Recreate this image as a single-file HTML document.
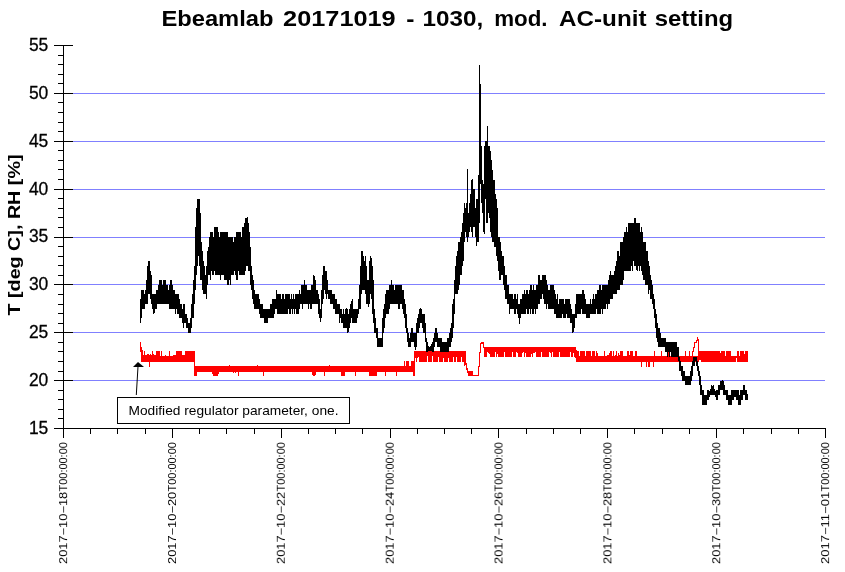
<!DOCTYPE html>
<html><head><meta charset="utf-8"><title>Ebeamlab</title>
<style>html,body{margin:0;padding:0;background:#fff;}body{width:845px;height:572px;position:relative;overflow:hidden;font-family:"Liberation Sans",sans-serif;}</style></head>
<body>
<svg width="845" height="572" viewBox="0 0 845 572" style="position:absolute;left:0;top:0" font-family="Liberation Sans, sans-serif">
<path d="M73,380.5H825M73,332.5H825M73,284.5H825M73,237.5H825M73,189.5H825M73,141.5H825M73,93.5H825" stroke="#8080ff" stroke-width="1" fill="none" shape-rendering="crispEdges"/>
<path d="M63.5,45.0V438 M63.0,428.5H825.5M54,428.5H73M58,418.5H63.5M58,409.5H63.5M58,399.5H63.5M58,390.5H63.5M54,380.5H73M58,371.5H63.5M58,361.5H63.5M58,351.5H63.5M58,342.5H63.5M54,332.5H73M58,323.5H63.5M58,313.5H63.5M58,304.5H63.5M58,294.5H63.5M54,284.5H73M58,275.5H63.5M58,265.5H63.5M58,256.5H63.5M58,246.5H63.5M54,237.5H73M58,227.5H63.5M58,217.5H63.5M58,208.5H63.5M58,198.5H63.5M54,189.5H73M58,179.5H63.5M58,169.5H63.5M58,160.5H63.5M58,150.5H63.5M54,141.5H73M58,131.5H63.5M58,122.5H63.5M58,112.5H63.5M58,102.5H63.5M54,93.5H73M58,83.5H63.5M58,74.5H63.5M58,64.5H63.5M58,55.5H63.5M54,45.5H73M63.5,428.5V438M90.5,428.5V434M117.5,428.5V434M145.5,428.5V434M172.5,428.5V438M199.5,428.5V434M226.5,428.5V434M254.5,428.5V434M281.5,428.5V438M308.5,428.5V434M335.5,428.5V434M362.5,428.5V434M390.5,428.5V438M417.5,428.5V434M444.5,428.5V434M471.5,428.5V434M498.5,428.5V438M526.5,428.5V434M553.5,428.5V434M580.5,428.5V434M607.5,428.5V438M634.5,428.5V434M662.5,428.5V434M689.5,428.5V434M716.5,428.5V438M743.5,428.5V434M771.5,428.5V434M798.5,428.5V434M825.5,428.5V438" stroke="#000" stroke-width="1" fill="none" shape-rendering="crispEdges"/>
<path d="M140,342h1V352h-1zM141,347h1V362h-1zM142,350h1V362h-1zM143,355h1V362h-1zM144,351h1V362h-1zM145,355h1V362h-1zM146,355h1V362h-1zM147,354h1V362h-1zM148,354h1V362h-1zM149,355h1V367h-1zM150,354h1V362h-1zM151,355h1V362h-1zM152,351h1V362h-1zM153,354h1V362h-1zM154,355h1V362h-1zM155,355h1V362h-1zM156,351h1V362h-1zM157,351h1V362h-1zM158,351h1V362h-1zM159,351h1V362h-1zM160,356h1V362h-1zM161,351h1V362h-1zM162,356h1V362h-1zM163,356h1V362h-1zM164,356h1V362h-1zM165,355h1V362h-1zM166,356h1V362h-1zM167,356h1V362h-1zM168,356h1V362h-1zM169,351h1V362h-1zM170,356h1V362h-1zM171,356h1V362h-1zM172,356h1V362h-1zM173,355h1V362h-1zM174,355h1V362h-1zM175,355h1V362h-1zM176,351h1V362h-1zM177,351h1V362h-1zM178,351h1V362h-1zM179,351h1V362h-1zM180,351h1V362h-1zM181,351h1V362h-1zM182,355h1V362h-1zM183,355h1V362h-1zM184,355h1V362h-1zM185,351h1V362h-1zM186,351h1V362h-1zM187,351h1V362h-1zM188,351h1V362h-1zM189,351h1V362h-1zM190,351h1V362h-1zM191,351h1V362h-1zM192,351h1V362h-1zM193,351h1V362h-1zM194,351h1V376h-1zM195,366h1V376h-1zM196,366h1V376h-1zM197,366h1V372h-1zM198,366h1V372h-1zM199,366h1V372h-1zM200,366h1V372h-1zM201,366h1V372h-1zM202,366h1V372h-1zM203,366h1V372h-1zM204,366h1V372h-1zM205,366h1V372h-1zM206,366h1V372h-1zM207,366h1V372h-1zM208,366h1V372h-1zM209,366h1V372h-1zM210,366h1V372h-1zM211,366h1V372h-1zM212,366h1V374h-1zM213,366h1V376h-1zM214,366h1V376h-1zM215,366h1V376h-1zM216,366h1V376h-1zM217,366h1V376h-1zM218,366h1V374h-1zM219,366h1V372h-1zM220,366h1V372h-1zM221,366h1V372h-1zM222,366h1V372h-1zM223,366h1V372h-1zM224,366h1V372h-1zM225,366h1V372h-1zM226,366h1V372h-1zM227,366h1V372h-1zM228,366h1V372h-1zM229,365h1V372h-1zM230,366h1V372h-1zM231,366h1V372h-1zM232,366h1V372h-1zM233,366h1V373h-1zM234,366h1V372h-1zM235,366h1V373h-1zM236,366h1V372h-1zM237,366h1V372h-1zM238,366h1V376h-1zM239,366h1V372h-1zM240,366h1V372h-1zM241,366h1V372h-1zM242,366h1V372h-1zM243,366h1V372h-1zM244,366h1V372h-1zM245,366h1V372h-1zM246,366h1V372h-1zM247,366h1V372h-1zM248,366h1V372h-1zM249,366h1V372h-1zM250,366h1V372h-1zM251,366h1V372h-1zM252,366h1V372h-1zM253,366h1V372h-1zM254,366h1V372h-1zM255,366h1V372h-1zM256,366h1V372h-1zM257,365h1V372h-1zM258,366h1V372h-1zM259,366h1V372h-1zM260,366h1V372h-1zM261,366h1V372h-1zM262,366h1V372h-1zM263,366h1V376h-1zM264,366h1V372h-1zM265,366h1V372h-1zM266,366h1V372h-1zM267,366h1V372h-1zM268,366h1V372h-1zM269,366h1V372h-1zM270,366h1V372h-1zM271,366h1V372h-1zM272,366h1V372h-1zM273,366h1V372h-1zM274,366h1V372h-1zM275,366h1V372h-1zM276,366h1V372h-1zM277,366h1V372h-1zM278,366h1V372h-1zM279,366h1V372h-1zM280,366h1V372h-1zM281,366h1V372h-1zM282,366h1V372h-1zM283,366h1V372h-1zM284,366h1V372h-1zM285,366h1V372h-1zM286,366h1V372h-1zM287,366h1V372h-1zM288,366h1V372h-1zM289,366h1V372h-1zM290,366h1V372h-1zM291,366h1V372h-1zM292,366h1V372h-1zM293,366h1V372h-1zM294,366h1V372h-1zM295,366h1V372h-1zM296,366h1V372h-1zM297,366h1V372h-1zM298,366h1V372h-1zM299,366h1V372h-1zM300,366h1V372h-1zM301,366h1V372h-1zM302,366h1V372h-1zM303,366h1V372h-1zM304,366h1V372h-1zM305,366h1V372h-1zM306,366h1V372h-1zM307,366h1V372h-1zM308,366h1V372h-1zM309,366h1V372h-1zM310,366h1V372h-1zM311,366h1V372h-1zM312,366h1V375h-1zM313,366h1V376h-1zM314,366h1V376h-1zM315,366h1V375h-1zM316,366h1V372h-1zM317,366h1V372h-1zM318,366h1V372h-1zM319,366h1V372h-1zM320,366h1V372h-1zM321,366h1V372h-1zM322,366h1V372h-1zM323,366h1V372h-1zM324,366h1V376h-1zM325,366h1V372h-1zM326,366h1V372h-1zM327,366h1V372h-1zM328,366h1V372h-1zM329,365h1V372h-1zM330,366h1V372h-1zM331,366h1V372h-1zM332,366h1V372h-1zM333,366h1V372h-1zM334,366h1V372h-1zM335,366h1V372h-1zM336,366h1V372h-1zM337,366h1V372h-1zM338,366h1V372h-1zM339,366h1V372h-1zM340,366h1V372h-1zM341,366h1V376h-1zM342,366h1V376h-1zM343,366h1V376h-1zM344,366h1V376h-1zM345,366h1V372h-1zM346,366h1V372h-1zM347,366h1V372h-1zM348,366h1V372h-1zM349,366h1V372h-1zM350,366h1V372h-1zM351,366h1V372h-1zM352,366h1V372h-1zM353,366h1V372h-1zM354,366h1V372h-1zM355,366h1V376h-1zM356,366h1V372h-1zM357,366h1V372h-1zM358,366h1V372h-1zM359,366h1V372h-1zM360,366h1V372h-1zM361,366h1V372h-1zM362,366h1V372h-1zM363,366h1V372h-1zM364,366h1V372h-1zM365,366h1V372h-1zM366,366h1V372h-1zM367,366h1V372h-1zM368,366h1V372h-1zM369,366h1V376h-1zM370,366h1V376h-1zM371,366h1V376h-1zM372,366h1V376h-1zM373,366h1V376h-1zM374,366h1V376h-1zM375,366h1V376h-1zM376,366h1V376h-1zM377,366h1V372h-1zM378,366h1V372h-1zM379,366h1V372h-1zM380,366h1V372h-1zM381,366h1V372h-1zM382,366h1V372h-1zM383,366h1V372h-1zM384,366h1V372h-1zM385,366h1V376h-1zM386,366h1V372h-1zM387,366h1V372h-1zM388,366h1V372h-1zM389,366h1V372h-1zM390,366h1V372h-1zM391,366h1V372h-1zM392,366h1V372h-1zM393,366h1V372h-1zM394,366h1V372h-1zM395,366h1V372h-1zM396,366h1V376h-1zM397,366h1V372h-1zM398,366h1V372h-1zM399,366h1V372h-1zM400,366h1V372h-1zM401,366h1V372h-1zM402,366h1V372h-1zM403,366h1V372h-1zM404,361h1V372h-1zM405,366h1V372h-1zM406,361h1V372h-1zM407,361h1V372h-1zM408,361h1V372h-1zM409,366h1V372h-1zM410,366h1V372h-1zM411,361h1V372h-1zM412,361h1V372h-1zM413,361h1V376h-1zM414,351h1V376h-1zM415,351h1V358h-1zM416,351h1V362h-1zM417,351h1V358h-1zM418,351h1V357h-1zM419,351h1V362h-1zM420,351h1V362h-1zM421,351h1V362h-1zM422,351h1V362h-1zM423,351h1V362h-1zM424,351h1V362h-1zM425,351h1V362h-1zM426,351h1V362h-1zM427,351h1V356h-1zM428,351h1V362h-1zM429,351h1V362h-1zM430,351h1V362h-1zM431,351h1V362h-1zM432,351h1V356h-1zM433,351h1V362h-1zM434,351h1V362h-1zM435,351h1V362h-1zM436,351h1V362h-1zM437,351h1V362h-1zM438,351h1V357h-1zM439,351h1V362h-1zM440,351h1V362h-1zM441,351h1V362h-1zM442,351h1V362h-1zM443,351h1V358h-1zM444,351h1V362h-1zM445,351h1V362h-1zM446,351h1V362h-1zM447,351h1V362h-1zM448,351h1V358h-1zM449,351h1V362h-1zM450,351h1V362h-1zM451,351h1V362h-1zM452,351h1V362h-1zM453,351h1V357h-1zM454,351h1V362h-1zM455,351h1V362h-1zM456,351h1V357h-1zM457,351h1V362h-1zM458,351h1V362h-1zM459,351h1V362h-1zM460,351h1V362h-1zM461,351h1V357h-1zM462,351h1V362h-1zM463,351h1V362h-1zM464,351h1V366h-1zM465,351h1V365h-1zM466,363h1V370h-1zM467,368h1V373h-1zM468,371h1V376h-1zM469,371h1V376h-1zM470,371h1V376h-1zM471,371h1V376h-1zM472,371h1V376h-1zM473,375h1V376h-1zM474,375h1V376h-1zM475,375h1V376h-1zM476,375h1V376h-1zM477,375h1V376h-1zM478,366h1V376h-1zM479,352h1V367h-1zM480,343h1V353h-1zM481,342h1V344h-1zM482,342h1V344h-1zM483,342h1V348h-1zM484,347h1V357h-1zM485,347h1V357h-1zM486,347h1V357h-1zM487,347h1V352h-1zM488,347h1V353h-1zM489,347h1V354h-1zM490,347h1V357h-1zM491,347h1V357h-1zM492,347h1V357h-1zM493,347h1V357h-1zM494,347h1V357h-1zM495,347h1V352h-1zM496,347h1V357h-1zM497,347h1V354h-1zM498,347h1V357h-1zM499,347h1V357h-1zM500,347h1V357h-1zM501,347h1V357h-1zM502,347h1V357h-1zM503,347h1V357h-1zM504,347h1V352h-1zM505,347h1V357h-1zM506,347h1V357h-1zM507,347h1V357h-1zM508,347h1V357h-1zM509,347h1V357h-1zM510,347h1V357h-1zM511,347h1V357h-1zM512,347h1V352h-1zM513,347h1V357h-1zM514,347h1V357h-1zM515,347h1V357h-1zM516,347h1V352h-1zM517,347h1V353h-1zM518,347h1V357h-1zM519,347h1V357h-1zM520,347h1V357h-1zM521,347h1V357h-1zM522,347h1V353h-1zM523,347h1V352h-1zM524,347h1V357h-1zM525,347h1V353h-1zM526,347h1V357h-1zM527,347h1V357h-1zM528,347h1V357h-1zM529,347h1V357h-1zM530,347h1V357h-1zM531,347h1V354h-1zM532,347h1V357h-1zM533,347h1V353h-1zM534,347h1V353h-1zM535,347h1V352h-1zM536,347h1V357h-1zM537,347h1V357h-1zM538,347h1V357h-1zM539,347h1V357h-1zM540,347h1V357h-1zM541,347h1V352h-1zM542,347h1V357h-1zM543,347h1V357h-1zM544,347h1V357h-1zM545,347h1V357h-1zM546,347h1V357h-1zM547,347h1V357h-1zM548,347h1V357h-1zM549,347h1V352h-1zM550,347h1V353h-1zM551,347h1V357h-1zM552,347h1V352h-1zM553,347h1V357h-1zM554,347h1V357h-1zM555,347h1V357h-1zM556,347h1V357h-1zM557,347h1V357h-1zM558,347h1V357h-1zM559,347h1V352h-1zM560,347h1V357h-1zM561,347h1V357h-1zM562,347h1V357h-1zM563,347h1V357h-1zM564,347h1V357h-1zM565,347h1V357h-1zM566,347h1V357h-1zM567,347h1V357h-1zM568,347h1V357h-1zM569,347h1V357h-1zM570,347h1V352h-1zM571,347h1V357h-1zM572,347h1V357h-1zM573,347h1V353h-1zM574,347h1V357h-1zM575,347h1V358h-1zM576,350h1V362h-1zM577,351h1V362h-1zM578,351h1V362h-1zM579,356h1V362h-1zM580,351h1V362h-1zM581,351h1V362h-1zM582,351h1V362h-1zM583,351h1V362h-1zM584,351h1V362h-1zM585,356h1V362h-1zM586,351h1V362h-1zM587,351h1V362h-1zM588,351h1V362h-1zM589,351h1V362h-1zM590,351h1V362h-1zM591,356h1V362h-1zM592,351h1V362h-1zM593,351h1V362h-1zM594,351h1V362h-1zM595,356h1V362h-1zM596,351h1V362h-1zM597,353h1V362h-1zM598,356h1V362h-1zM599,356h1V362h-1zM600,356h1V362h-1zM601,356h1V362h-1zM602,356h1V362h-1zM603,356h1V362h-1zM604,351h1V362h-1zM605,356h1V362h-1zM606,356h1V362h-1zM607,355h1V362h-1zM608,355h1V362h-1zM609,353h1V362h-1zM610,351h1V362h-1zM611,351h1V362h-1zM612,356h1V362h-1zM613,351h1V362h-1zM614,356h1V362h-1zM615,355h1V362h-1zM616,351h1V362h-1zM617,356h1V362h-1zM618,353h1V362h-1zM619,355h1V362h-1zM620,351h1V362h-1zM621,351h1V362h-1zM622,351h1V362h-1zM623,356h1V362h-1zM624,356h1V362h-1zM625,356h1V362h-1zM626,356h1V362h-1zM627,351h1V362h-1zM628,351h1V362h-1zM629,355h1V362h-1zM630,351h1V362h-1zM631,351h1V362h-1zM632,351h1V362h-1zM633,356h1V362h-1zM634,356h1V362h-1zM635,351h1V362h-1zM636,351h1V362h-1zM637,356h1V362h-1zM638,356h1V362h-1zM639,356h1V362h-1zM640,356h1V362h-1zM641,356h1V367h-1zM642,356h1V362h-1zM643,356h1V362h-1zM644,356h1V362h-1zM645,356h1V362h-1zM646,356h1V367h-1zM647,356h1V362h-1zM648,356h1V367h-1zM649,356h1V367h-1zM650,356h1V362h-1zM651,356h1V362h-1zM652,356h1V362h-1zM653,356h1V367h-1zM654,351h1V362h-1zM655,356h1V362h-1zM656,356h1V362h-1zM657,356h1V362h-1zM658,356h1V362h-1zM659,356h1V362h-1zM660,356h1V362h-1zM661,351h1V362h-1zM662,356h1V362h-1zM663,356h1V362h-1zM664,356h1V362h-1zM665,356h1V362h-1zM666,356h1V362h-1zM667,351h1V362h-1zM668,351h1V362h-1zM669,351h1V362h-1zM670,356h1V362h-1zM671,356h1V362h-1zM672,351h1V362h-1zM673,356h1V362h-1zM674,356h1V362h-1zM675,356h1V362h-1zM676,356h1V362h-1zM677,356h1V362h-1zM678,356h1V362h-1zM679,356h1V362h-1zM680,356h1V362h-1zM681,356h1V362h-1zM682,356h1V362h-1zM683,356h1V362h-1zM684,356h1V362h-1zM685,351h1V362h-1zM686,356h1V362h-1zM687,356h1V362h-1zM688,356h1V362h-1zM689,351h1V362h-1zM690,356h1V362h-1zM691,356h1V362h-1zM692,356h1V362h-1zM693,356h1V362h-1zM694,356h1V362h-1zM695,356h1V362h-1zM696,356h1V362h-1zM697,356h1V362h-1zM698,356h1V362h-1zM699,351h1V360h-1zM700,351h1V360h-1zM701,351h1V362h-1zM702,351h1V362h-1zM703,351h1V362h-1zM704,351h1V362h-1zM705,351h1V362h-1zM706,351h1V362h-1zM707,351h1V362h-1zM708,351h1V362h-1zM709,351h1V362h-1zM710,351h1V362h-1zM711,351h1V362h-1zM712,351h1V362h-1zM713,351h1V362h-1zM714,351h1V362h-1zM715,351h1V362h-1zM716,351h1V362h-1zM717,351h1V362h-1zM718,351h1V362h-1zM719,351h1V362h-1zM720,353h1V362h-1zM721,351h1V362h-1zM722,351h1V362h-1zM723,351h1V362h-1zM724,351h1V362h-1zM725,356h1V362h-1zM726,351h1V362h-1zM727,351h1V362h-1zM728,351h1V362h-1zM729,351h1V362h-1zM730,351h1V362h-1zM731,356h1V362h-1zM732,356h1V362h-1zM733,356h1V362h-1zM734,356h1V362h-1zM735,356h1V362h-1zM736,356h1V358h-1zM737,351h1V362h-1zM738,351h1V362h-1zM739,356h1V362h-1zM740,351h1V362h-1zM741,351h1V362h-1zM742,351h1V362h-1zM743,351h1V362h-1zM744,354h1V362h-1zM745,351h1V362h-1zM746,351h1V362h-1zM747,351h1V362h-1zM692,351h1V356h-1zM693,347h1V352h-1zM694,342h1V348h-1zM695,342h1V343h-1zM696,340h1V343h-1zM697,337h1V341h-1zM698,339h1V356h-1z" fill="#ff0000" stroke="none" shape-rendering="crispEdges"/>
<path d="" fill="#ffffff" stroke="none" shape-rendering="crispEdges"/>
<path d="M140,299h1V323h-1zM141,290h1V318h-1zM142,290h1V309h-1zM143,290h1V309h-1zM144,294h1V309h-1zM145,290h1V304h-1zM146,280h1V304h-1zM147,266h1V304h-1zM148,261h1V294h-1zM149,261h1V294h-1zM150,271h1V299h-1zM151,275h1V304h-1zM152,294h1V309h-1zM153,294h1V314h-1zM154,294h1V313h-1zM155,294h1V309h-1zM156,290h1V309h-1zM157,290h1V304h-1zM158,285h1V304h-1zM159,280h1V304h-1zM160,280h1V304h-1zM161,280h1V304h-1zM162,285h1V304h-1zM163,280h1V304h-1zM164,280h1V304h-1zM165,280h1V304h-1zM166,285h1V304h-1zM167,285h1V304h-1zM168,290h1V304h-1zM169,285h1V309h-1zM170,280h1V309h-1zM171,280h1V309h-1zM172,285h1V309h-1zM173,290h1V309h-1zM174,290h1V309h-1zM175,294h1V314h-1zM176,294h1V309h-1zM177,294h1V314h-1zM178,294h1V314h-1zM179,299h1V318h-1zM180,304h1V318h-1zM181,304h1V318h-1zM182,309h1V323h-1zM183,304h1V328h-1zM184,304h1V323h-1zM185,314h1V323h-1zM186,314h1V328h-1zM187,318h1V328h-1zM188,323h1V333h-1zM189,323h1V333h-1zM190,318h1V333h-1zM191,304h1V328h-1zM192,294h1V318h-1zM193,280h1V318h-1zM194,266h1V304h-1zM195,227h1V290h-1zM196,208h1V275h-1zM197,199h1V266h-1zM198,199h1V256h-1zM199,199h1V266h-1zM200,213h1V280h-1zM201,242h1V280h-1zM202,251h1V290h-1zM203,261h1V294h-1zM204,266h1V294h-1zM205,275h1V294h-1zM206,266h1V299h-1zM207,251h1V285h-1zM208,247h1V275h-1zM209,237h1V275h-1zM210,232h1V280h-1zM211,232h1V271h-1zM212,232h1V275h-1zM213,237h1V275h-1zM214,227h1V271h-1zM215,227h1V275h-1zM216,227h1V275h-1zM217,227h1V275h-1zM218,232h1V275h-1zM219,237h1V275h-1zM220,232h1V280h-1zM221,232h1V275h-1zM222,232h1V275h-1zM223,232h1V275h-1zM224,232h1V280h-1zM225,232h1V280h-1zM226,232h1V280h-1zM227,232h1V285h-1zM228,237h1V285h-1zM229,237h1V280h-1zM230,237h1V285h-1zM231,237h1V275h-1zM232,237h1V275h-1zM233,242h1V275h-1zM234,237h1V271h-1zM235,237h1V275h-1zM236,232h1V280h-1zM237,232h1V280h-1zM238,232h1V271h-1zM239,232h1V275h-1zM240,232h1V275h-1zM241,237h1V275h-1zM242,227h1V275h-1zM243,227h1V275h-1zM244,223h1V275h-1zM245,218h1V271h-1zM246,218h1V266h-1zM247,217h1V266h-1zM248,223h1V271h-1zM249,232h1V271h-1zM250,247h1V285h-1zM251,266h1V290h-1zM252,275h1V299h-1zM253,280h1V304h-1zM254,290h1V309h-1zM255,294h1V309h-1zM256,294h1V309h-1zM257,294h1V309h-1zM258,294h1V309h-1zM259,299h1V314h-1zM260,304h1V318h-1zM261,304h1V318h-1zM262,304h1V318h-1zM263,309h1V318h-1zM264,309h1V323h-1zM265,309h1V323h-1zM266,309h1V323h-1zM267,309h1V323h-1zM268,309h1V318h-1zM269,309h1V318h-1zM270,304h1V318h-1zM271,304h1V318h-1zM272,299h1V318h-1zM273,299h1V318h-1zM274,299h1V314h-1zM275,299h1V309h-1zM276,290h1V309h-1zM277,294h1V314h-1zM278,294h1V314h-1zM279,294h1V314h-1zM280,294h1V314h-1zM281,299h1V314h-1zM282,294h1V314h-1zM283,294h1V314h-1zM284,299h1V314h-1zM285,294h1V314h-1zM286,294h1V314h-1zM287,294h1V314h-1zM288,294h1V309h-1zM289,294h1V314h-1zM290,299h1V314h-1zM291,294h1V309h-1zM292,299h1V314h-1zM293,294h1V309h-1zM294,299h1V314h-1zM295,294h1V309h-1zM296,294h1V314h-1zM297,294h1V314h-1zM298,294h1V314h-1zM299,290h1V309h-1zM300,294h1V304h-1zM301,285h1V304h-1zM302,285h1V309h-1zM303,285h1V304h-1zM304,280h1V304h-1zM305,285h1V304h-1zM306,285h1V304h-1zM307,290h1V304h-1zM308,290h1V309h-1zM309,290h1V304h-1zM310,290h1V309h-1zM311,285h1V309h-1zM312,285h1V304h-1zM313,275h1V304h-1zM314,276h1V304h-1zM315,280h1V304h-1zM316,290h1V304h-1zM317,290h1V304h-1zM318,294h1V314h-1zM319,299h1V318h-1zM320,309h1V322h-1zM321,290h1V318h-1zM322,275h1V304h-1zM323,266h1V299h-1zM324,266h1V290h-1zM325,271h1V294h-1zM326,271h1V299h-1zM327,280h1V294h-1zM328,290h1V299h-1zM329,290h1V299h-1zM330,290h1V304h-1zM331,290h1V304h-1zM332,294h1V304h-1zM333,294h1V309h-1zM334,294h1V309h-1zM335,299h1V314h-1zM336,299h1V314h-1zM337,304h1V314h-1zM338,304h1V314h-1zM339,304h1V323h-1zM340,309h1V318h-1zM341,309h1V323h-1zM342,314h1V323h-1zM343,309h1V328h-1zM344,314h1V328h-1zM345,309h1V328h-1zM346,308h1V328h-1zM347,309h1V333h-1zM348,314h1V332h-1zM349,309h1V328h-1zM350,304h1V323h-1zM351,301h1V318h-1zM352,299h1V323h-1zM353,309h1V323h-1zM354,309h1V323h-1zM355,309h1V323h-1zM356,309h1V323h-1zM357,309h1V318h-1zM358,299h1V314h-1zM359,285h1V309h-1zM360,266h1V309h-1zM361,251h1V294h-1zM362,251h1V290h-1zM363,256h1V290h-1zM364,261h1V290h-1zM365,256h1V294h-1zM366,266h1V304h-1zM367,280h1V304h-1zM368,280h1V307h-1zM369,261h1V304h-1zM370,256h1V294h-1zM371,258h1V299h-1zM372,266h1V314h-1zM373,280h1V323h-1zM374,309h1V333h-1zM375,318h1V333h-1zM376,328h1V338h-1zM377,328h1V347h-1zM378,338h1V347h-1zM379,338h1V347h-1zM380,338h1V347h-1zM381,338h1V347h-1zM382,318h1V347h-1zM383,309h1V333h-1zM384,304h1V328h-1zM385,294h1V318h-1zM386,290h1V314h-1zM387,290h1V314h-1zM388,290h1V314h-1zM389,285h1V309h-1zM390,285h1V304h-1zM391,280h1V304h-1zM392,285h1V304h-1zM393,285h1V304h-1zM394,290h1V304h-1zM395,285h1V304h-1zM396,285h1V304h-1zM397,285h1V304h-1zM398,285h1V309h-1zM399,285h1V309h-1zM400,285h1V304h-1zM401,285h1V304h-1zM402,290h1V309h-1zM403,290h1V314h-1zM404,299h1V318h-1zM405,304h1V328h-1zM406,314h1V333h-1zM407,328h1V342h-1zM408,333h1V347h-1zM409,338h1V347h-1zM410,333h1V347h-1zM411,328h1V342h-1zM412,328h1V342h-1zM413,333h1V342h-1zM414,333h1V347h-1zM415,333h1V350h-1zM416,323h1V347h-1zM417,318h1V333h-1zM418,314h1V333h-1zM419,309h1V328h-1zM420,308h1V323h-1zM421,309h1V323h-1zM422,314h1V328h-1zM423,314h1V333h-1zM424,314h1V333h-1zM425,323h1V342h-1zM426,338h1V352h-1zM427,342h1V352h-1zM428,346h1V351h-1zM429,347h1V351h-1zM430,346h1V351h-1zM431,344h1V351h-1zM432,342h1V352h-1zM433,338h1V352h-1zM434,333h1V347h-1zM435,328h1V342h-1zM436,328h1V342h-1zM437,333h1V347h-1zM438,338h1V347h-1zM439,338h1V347h-1zM440,338h1V352h-1zM441,338h1V352h-1zM442,342h1V352h-1zM443,342h1V352h-1zM444,342h1V352h-1zM445,342h1V352h-1zM446,342h1V352h-1zM447,338h1V352h-1zM448,338h1V352h-1zM449,333h1V347h-1zM450,328h1V347h-1zM451,323h1V342h-1zM452,304h1V338h-1zM453,299h1V328h-1zM454,280h1V314h-1zM455,266h1V294h-1zM456,256h1V294h-1zM457,251h1V294h-1zM458,242h1V290h-1zM459,242h1V285h-1zM460,237h1V275h-1zM461,232h1V275h-1zM462,223h1V266h-1zM463,213h1V261h-1zM464,203h1V242h-1zM465,208h1V232h-1zM466,203h1V237h-1zM467,169h1V242h-1zM468,213h1V237h-1zM469,203h1V232h-1zM470,194h1V227h-1zM471,180h1V232h-1zM472,179h1V237h-1zM473,189h1V227h-1zM474,189h1V227h-1zM475,208h1V237h-1zM476,199h1V246h-1zM477,199h1V242h-1zM478,175h1V242h-1zM479,65h1V223h-1zM480,84h1V184h-1zM481,146h1V203h-1zM482,180h1V213h-1zM483,184h1V232h-1zM484,146h1V234h-1zM485,141h1V199h-1zM486,141h1V223h-1zM487,126h1V223h-1zM488,146h1V213h-1zM489,146h1V218h-1zM490,151h1V232h-1zM491,160h1V237h-1zM492,170h1V242h-1zM493,180h1V242h-1zM494,180h1V247h-1zM495,194h1V247h-1zM496,199h1V256h-1zM497,208h1V261h-1zM498,237h1V271h-1zM499,237h1V280h-1zM500,242h1V280h-1zM501,251h1V275h-1zM502,256h1V275h-1zM503,256h1V285h-1zM504,266h1V290h-1zM505,275h1V299h-1zM506,275h1V299h-1zM507,285h1V304h-1zM508,285h1V304h-1zM509,294h1V314h-1zM510,294h1V309h-1zM511,294h1V309h-1zM512,294h1V309h-1zM513,299h1V309h-1zM514,294h1V314h-1zM515,294h1V314h-1zM516,299h1V309h-1zM517,294h1V314h-1zM518,304h1V318h-1zM519,304h1V324h-1zM520,299h1V318h-1zM521,299h1V314h-1zM522,294h1V314h-1zM523,294h1V314h-1zM524,290h1V314h-1zM525,294h1V314h-1zM526,290h1V309h-1zM527,290h1V314h-1zM528,294h1V314h-1zM529,290h1V309h-1zM530,285h1V314h-1zM531,285h1V309h-1zM532,290h1V314h-1zM533,285h1V314h-1zM534,290h1V309h-1zM535,290h1V314h-1zM536,285h1V309h-1zM537,285h1V309h-1zM538,275h1V304h-1zM539,275h1V304h-1zM540,280h1V299h-1zM541,280h1V299h-1zM542,275h1V294h-1zM543,275h1V299h-1zM544,275h1V304h-1zM545,275h1V304h-1zM546,280h1V309h-1zM547,285h1V304h-1zM548,290h1V309h-1zM549,290h1V309h-1zM550,285h1V309h-1zM551,285h1V309h-1zM552,285h1V309h-1zM553,285h1V309h-1zM554,290h1V314h-1zM555,294h1V314h-1zM556,299h1V318h-1zM557,294h1V318h-1zM558,304h1V318h-1zM559,299h1V318h-1zM560,299h1V318h-1zM561,299h1V318h-1zM562,299h1V314h-1zM563,299h1V318h-1zM564,304h1V318h-1zM565,299h1V318h-1zM566,299h1V314h-1zM567,299h1V318h-1zM568,299h1V318h-1zM569,299h1V318h-1zM570,304h1V323h-1zM571,309h1V323h-1zM572,314h1V333h-1zM573,314h1V332h-1zM574,314h1V328h-1zM575,304h1V318h-1zM576,294h1V318h-1zM577,294h1V314h-1zM578,294h1V314h-1zM579,294h1V314h-1zM580,294h1V314h-1zM581,294h1V309h-1zM582,290h1V314h-1zM583,290h1V314h-1zM584,294h1V314h-1zM585,299h1V314h-1zM586,304h1V318h-1zM587,304h1V318h-1zM588,304h1V318h-1zM589,304h1V318h-1zM590,299h1V314h-1zM591,304h1V314h-1zM592,299h1V314h-1zM593,294h1V314h-1zM594,299h1V314h-1zM595,294h1V314h-1zM596,294h1V309h-1zM597,290h1V314h-1zM598,290h1V314h-1zM599,285h1V314h-1zM600,285h1V314h-1zM601,290h1V309h-1zM602,285h1V314h-1zM603,285h1V309h-1zM604,285h1V309h-1zM605,285h1V309h-1zM606,285h1V304h-1zM607,285h1V309h-1zM608,280h1V304h-1zM609,275h1V304h-1zM610,271h1V299h-1zM611,275h1V299h-1zM612,275h1V299h-1zM613,275h1V294h-1zM614,271h1V294h-1zM615,266h1V294h-1zM616,261h1V294h-1zM617,251h1V290h-1zM618,251h1V290h-1zM619,256h1V290h-1zM620,242h1V285h-1zM621,242h1V285h-1zM622,242h1V285h-1zM623,237h1V280h-1zM624,232h1V271h-1zM625,232h1V271h-1zM626,227h1V271h-1zM627,232h1V271h-1zM628,223h1V271h-1zM629,223h1V271h-1zM630,223h1V271h-1zM631,223h1V266h-1zM632,223h1V271h-1zM633,223h1V261h-1zM634,218h1V266h-1zM635,218h1V266h-1zM636,223h1V270h-1zM637,223h1V271h-1zM638,223h1V266h-1zM639,223h1V271h-1zM640,232h1V266h-1zM641,227h1V271h-1zM642,232h1V275h-1zM643,242h1V280h-1zM644,242h1V280h-1zM645,242h1V285h-1zM646,251h1V285h-1zM647,251h1V285h-1zM648,261h1V294h-1zM649,266h1V290h-1zM650,275h1V299h-1zM651,280h1V299h-1zM652,285h1V304h-1zM653,294h1V309h-1zM654,299h1V318h-1zM655,309h1V328h-1zM656,314h1V338h-1zM657,323h1V342h-1zM658,328h1V347h-1zM659,328h1V347h-1zM660,333h1V347h-1zM661,338h1V347h-1zM662,338h1V347h-1zM663,338h1V347h-1zM664,338h1V347h-1zM665,338h1V352h-1zM666,342h1V352h-1zM667,342h1V357h-1zM668,342h1V352h-1zM669,342h1V357h-1zM670,342h1V352h-1zM671,342h1V357h-1zM672,342h1V357h-1zM673,342h1V357h-1zM674,342h1V357h-1zM675,342h1V357h-1zM676,342h1V357h-1zM677,347h1V357h-1zM678,347h1V361h-1zM679,357h1V371h-1zM680,361h1V371h-1zM681,366h1V376h-1zM682,366h1V381h-1zM683,371h1V381h-1zM684,371h1V381h-1zM685,376h1V385h-1zM686,376h1V385h-1zM687,376h1V385h-1zM688,376h1V385h-1zM689,376h1V385h-1zM690,371h1V385h-1zM691,366h1V381h-1zM692,361h1V376h-1zM693,357h1V366h-1zM694,357h1V366h-1zM695,357h1V361h-1zM696,357h1V366h-1zM697,361h1V371h-1zM698,366h1V376h-1zM699,371h1V385h-1zM700,376h1V395h-1zM701,385h1V395h-1zM702,390h1V405h-1zM703,390h1V405h-1zM704,395h1V405h-1zM705,395h1V405h-1zM706,395h1V405h-1zM707,390h1V400h-1zM708,390h1V400h-1zM709,391h1V397h-1zM710,389h1V395h-1zM711,385h1V395h-1zM712,386h1V395h-1zM713,385h1V395h-1zM714,389h1V395h-1zM715,391h1V397h-1zM716,390h1V400h-1zM717,390h1V400h-1zM718,385h1V395h-1zM719,385h1V395h-1zM720,381h1V390h-1zM721,381h1V390h-1zM722,380h1V390h-1zM723,381h1V395h-1zM724,385h1V395h-1zM725,390h1V395h-1zM726,390h1V400h-1zM727,390h1V400h-1zM728,395h1V405h-1zM729,395h1V405h-1zM730,395h1V405h-1zM731,390h1V405h-1zM732,390h1V400h-1zM733,390h1V400h-1zM734,390h1V397h-1zM735,390h1V397h-1zM736,390h1V400h-1zM737,390h1V400h-1zM738,390h1V405h-1zM739,395h1V405h-1zM740,390h1V405h-1zM741,390h1V400h-1zM742,390h1V400h-1zM743,385h1V395h-1zM744,385h1V395h-1zM745,390h1V400h-1zM746,390h1V400h-1zM747,394h1V400h-1z" fill="#000" stroke="none" shape-rendering="crispEdges"/>
<g id="txt" opacity="0.999">
<rect x="117.5" y="397.5" width="232" height="26" fill="#fff" stroke="#000" stroke-width="1"/>
<path d="M136.3,395 L138,366.5" stroke="#000" stroke-width="1" fill="none"/>
<path d="M138,362 L144,367 L133,367 Z" fill="#000"/>
<text x="128.5" y="415" font-size="12.2" textLength="210" lengthAdjust="spacingAndGlyphs" fill="#000">Modified regulator parameter, one.</text>
<text x="28.9" y="433.9" font-size="17.6" textLength="19.4" lengthAdjust="spacingAndGlyphs" fill="#000" stroke="#000" stroke-width="0.3">15</text>
<text x="28.9" y="386.0" font-size="17.6" textLength="19.4" lengthAdjust="spacingAndGlyphs" fill="#000" stroke="#000" stroke-width="0.3">20</text>
<text x="28.9" y="338.1" font-size="17.6" textLength="19.4" lengthAdjust="spacingAndGlyphs" fill="#000" stroke="#000" stroke-width="0.3">25</text>
<text x="28.9" y="290.3" font-size="17.6" textLength="19.4" lengthAdjust="spacingAndGlyphs" fill="#000" stroke="#000" stroke-width="0.3">30</text>
<text x="28.9" y="242.4" font-size="17.6" textLength="19.4" lengthAdjust="spacingAndGlyphs" fill="#000" stroke="#000" stroke-width="0.3">35</text>
<text x="28.9" y="194.5" font-size="17.6" textLength="19.4" lengthAdjust="spacingAndGlyphs" fill="#000" stroke="#000" stroke-width="0.3">40</text>
<text x="28.9" y="146.7" font-size="17.6" textLength="19.4" lengthAdjust="spacingAndGlyphs" fill="#000" stroke="#000" stroke-width="0.3">45</text>
<text x="28.9" y="98.8" font-size="17.6" textLength="19.4" lengthAdjust="spacingAndGlyphs" fill="#000" stroke="#000" stroke-width="0.3">50</text>
<text x="28.9" y="50.9" font-size="17.6" textLength="19.4" lengthAdjust="spacingAndGlyphs" fill="#000" stroke="#000" stroke-width="0.3">55</text>
<g transform="translate(67.1,564) rotate(-90)" font-size="10.6" fill="#000"><text x="0" y="0" textLength="72.2" lengthAdjust="spacingAndGlyphs">2017−10−18</text><text x="72.6" y="0" textLength="49.2" lengthAdjust="spacingAndGlyphs">T00:00:00</text></g>
<g transform="translate(176.0,564) rotate(-90)" font-size="10.6" fill="#000"><text x="0" y="0" textLength="72.2" lengthAdjust="spacingAndGlyphs">2017−10−20</text><text x="72.6" y="0" textLength="49.2" lengthAdjust="spacingAndGlyphs">T00:00:00</text></g>
<g transform="translate(284.8,564) rotate(-90)" font-size="10.6" fill="#000"><text x="0" y="0" textLength="72.2" lengthAdjust="spacingAndGlyphs">2017−10−22</text><text x="72.6" y="0" textLength="49.2" lengthAdjust="spacingAndGlyphs">T00:00:00</text></g>
<g transform="translate(393.7,564) rotate(-90)" font-size="10.6" fill="#000"><text x="0" y="0" textLength="72.2" lengthAdjust="spacingAndGlyphs">2017−10−24</text><text x="72.6" y="0" textLength="49.2" lengthAdjust="spacingAndGlyphs">T00:00:00</text></g>
<g transform="translate(502.5,564) rotate(-90)" font-size="10.6" fill="#000"><text x="0" y="0" textLength="72.2" lengthAdjust="spacingAndGlyphs">2017−10−26</text><text x="72.6" y="0" textLength="49.2" lengthAdjust="spacingAndGlyphs">T00:00:00</text></g>
<g transform="translate(611.4,564) rotate(-90)" font-size="10.6" fill="#000"><text x="0" y="0" textLength="72.2" lengthAdjust="spacingAndGlyphs">2017−10−28</text><text x="72.6" y="0" textLength="49.2" lengthAdjust="spacingAndGlyphs">T00:00:00</text></g>
<g transform="translate(720.2,564) rotate(-90)" font-size="10.6" fill="#000"><text x="0" y="0" textLength="72.2" lengthAdjust="spacingAndGlyphs">2017−10−30</text><text x="72.6" y="0" textLength="49.2" lengthAdjust="spacingAndGlyphs">T00:00:00</text></g>
<g transform="translate(829.1,564) rotate(-90)" font-size="10.6" fill="#000"><text x="0" y="0" textLength="72.2" lengthAdjust="spacingAndGlyphs">2017−11−01</text><text x="72.6" y="0" textLength="49.2" lengthAdjust="spacingAndGlyphs">T00:00:00</text></g>
<text transform="translate(19.6,315.5) rotate(-90)" font-size="16.8" font-weight="bold" textLength="161" lengthAdjust="spacingAndGlyphs" fill="#000">T [deg C], RH [%]</text>
<text x="161.4" y="25.5" font-size="21.4" font-weight="bold" textLength="112.1" lengthAdjust="spacingAndGlyphs" fill="#000">Ebeamlab</text>
<text x="283.1" y="25.5" font-size="21.4" font-weight="bold" textLength="112.6" lengthAdjust="spacingAndGlyphs" fill="#000">20171019</text>
<text x="406.3" y="25.5" font-size="21.4" font-weight="bold" textLength="8.2" lengthAdjust="spacingAndGlyphs" fill="#000">-</text>
<text x="422.6" y="25.5" font-size="21.4" font-weight="bold" textLength="60.7" lengthAdjust="spacingAndGlyphs" fill="#000">1030,</text>
<text x="494.2" y="25.5" font-size="21.4" font-weight="bold" textLength="53.4" lengthAdjust="spacingAndGlyphs" fill="#000">mod.</text>
<text x="559.1" y="25.5" font-size="21.4" font-weight="bold" textLength="87.4" lengthAdjust="spacingAndGlyphs" fill="#000">AC-unit</text>
<text x="654.8" y="25.5" font-size="21.4" font-weight="bold" textLength="78.3" lengthAdjust="spacingAndGlyphs" fill="#000">setting</text>
</g>
</svg>
</body></html>
